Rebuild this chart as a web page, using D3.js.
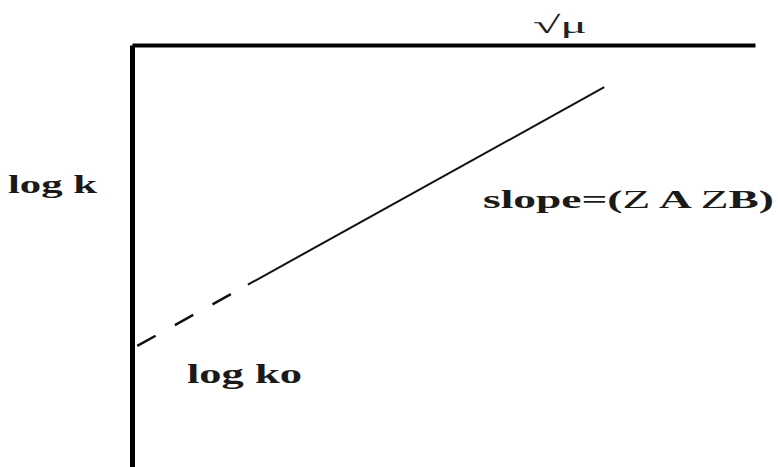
<!DOCTYPE html>
<html>
<head>
<meta charset="utf-8">
<script src="https://cdn.jsdelivr.net/npm/d3@7"></script>
<style>
  body { margin:0; background:#fff; }
  svg { display:block; }
</style>
</head>
<body>
<svg width="778" height="467"></svg>
<script>
// line through the points: extrapolated (dashed) part then measured (solid) part
const sqrtMu = [0, 1.86, 7.58];
const logK = [2.80, 4.32, 9.00];
const dashedPart = [0, 1];
const solidPart = [1, 2];

const labels = [
    { parts: [['log k', 'bold']], x: 8, y: 193, len: 89, size: 26 },
    { parts: [['log ko', 'bold']], x: 187, y: 383, len: 115, size: 27 },
    { parts: [['slope=(', 'bold'], ['Z', 'normal'], [' A ', 'bold'], ['Z', 'normal'], ['B)', 'bold']],
      x: 483, y: 208, len: 291, size: 26 }
];

function Start(){
    const svg = d3.select('svg');
    const height = +svg.attr('height');

    const xscale = d3.scaleLinear().domain([0, 10]).range([132, 755]);
    const yscale = d3.scaleLinear().domain([0, 10]).range([height, 45]);

    // top axis (sqrt mu) and left axis (log k), no ticks
    svg.append('g')
        .attr('transform', `translate(0,${yscale(10)})`)
        .call(d3.axisTop(xscale).ticks(0).tickSizeOuter(0))
        .select('.domain')
            .attr('stroke', '#000')
            .attr('stroke-width', 4);

    svg.append('g')
        .attr('transform', `translate(${xscale(0)},0)`)
        .call(d3.axisLeft(yscale).ticks(0).tickSizeOuter(0))
        .select('.domain')
            .attr('stroke', '#000')
            .attr('stroke-width', 5);

    const line = d3.line()
        .x(i => xscale(sqrtMu[i]))
        .y(i => yscale(logK[i]));

    svg.append('path')
        .attr('d', line(dashedPart))
        .attr('fill', 'none')
        .attr('stroke', '#111')
        .attr('stroke-width', 2.5)
        .attr('stroke-dasharray', '21,22')
        .attr('stroke-dashoffset', 37);

    svg.append('path')
        .attr('d', line(solidPart))
        .attr('fill', 'none')
        .attr('stroke', '#111')
        .attr('stroke-width', 2);

    svg.append('text')
        .attr('x', 533).attr('y', 33)
        .attr('textLength', 54)
        .attr('lengthAdjust', 'spacingAndGlyphs')
        .style('font-family', '"Liberation Serif", serif')
        .style('font-size', '24px')
        .attr('fill', '#222')
        .text('√μ');

    const t = svg.selectAll('text.lbl').data(labels)
        .enter().append('text')
            .attr('class', 'lbl')
            .attr('x', d => d.x)
            .attr('y', d => d.y)
            .attr('textLength', d => d.len)
            .attr('lengthAdjust', 'spacingAndGlyphs')
            .style('font-family', '"Liberation Serif", serif')
            .style('font-size', d => d.size + 'px')
            .attr('fill', '#1a1a1a');

    t.selectAll('tspan').data(d => d.parts)
        .enter().append('tspan')
            .style('font-weight', p => p[1])
            .text(p => p[0]);
}
Start();
</script>
</body>
</html>
